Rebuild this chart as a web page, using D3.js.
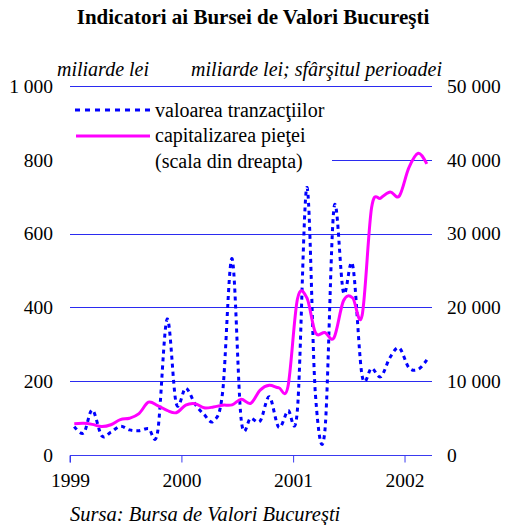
<!DOCTYPE html>
<html><head><meta charset="utf-8">
<script src="https://cdn.jsdelivr.net/npm/d3@7"></script>
<style>body{margin:0;background:#fff}svg{display:block}</style>
</head><body>
<svg id="c" width="506" height="525"></svg>
<script>
const months = ["1999-01","1999-02","1999-03","1999-04","1999-05","1999-06","1999-07","1999-08","1999-09","1999-10","1999-11","1999-12",
"2000-01","2000-02","2000-03","2000-04","2000-05","2000-06","2000-07","2000-08","2000-09","2000-10","2000-11","2000-12",
"2001-01","2001-02","2001-03","2001-04","2001-05","2001-06","2001-07","2001-08","2001-09","2001-10","2001-11","2001-12",
"2002-01","2002-02","2002-03"];
const tranzactii = [77,60,122,52,62,78,68,66,72,62,368,140,181,138,110,92,170,532,95,100,92,158,75,120,122,725,165,65,670,440,515,215,235,212,265,290,237,232,258];
const capitalizare = [4250,4300,4150,3850,4100,4800,4980,5600,7150,6700,6050,5730,6750,6950,6400,6500,6750,6800,7550,7000,8800,9450,9100,9250,21100,21300,16600,16600,15900,20900,21300,18900,33500,34800,35650,35100,38900,40880,39450];
const leftTicks = [0,200,400,600,800,1000];
const rightTicks = [0,10000,20000,30000,40000,50000];
const yearTicks = ["1999","2000","2001","2002"];

const svg = d3.select("#c");
const font = "'Liberation Serif','Times New Roman',serif";
const parse = d3.timeParse("%Y-%m-%d");
const x = d3.scaleTime().domain([parse("1999-01-01"), parse("2002-04-01")]).range([70, 432]);
const yL = d3.scaleLinear().domain([0,1000]).range([455, 86]);
const yR = d3.scaleLinear().domain([0,50000]).range([455, 86]);
const loc = d3.formatLocale({decimal:",", thousands:" ", grouping:[3], currency:["",""]});
const fmt = loc.format(",d");
const mid = m => parse(m + "-15");

// title
svg.append("text").attr("x", 253).attr("y", 24).attr("text-anchor","middle")
  .attr("font-family", font).attr("font-weight","bold").attr("font-size", 21)
  .text("Indicatori ai Bursei de Valori Bucureşti");

// gridlines
svg.append("g").selectAll("line").data(leftTicks.slice(1)).join("line")
  .attr("x1", 70).attr("x2", 432)
  .attr("y1", d => Math.round(yL(d)) + 0.5).attr("y2", d => Math.round(yL(d)) + 0.5)
  .attr("stroke", "#2b2bf0").attr("stroke-width", 1);

// bottom axis
const xAxis = d3.axisBottom(x).tickValues(yearTicks.map(y => parse(y + "-01-01"))).tickSize(7).tickFormat(d3.timeFormat("%Y"));
const gx = svg.append("g").attr("transform", "translate(0,455.5)").call(xAxis);
gx.select(".domain").attr("stroke", "#3a3af0").attr("d", "M70,7V0H432");
gx.selectAll(".tick line").attr("stroke", "#3a3af0");
gx.selectAll(".tick text").attr("font-family", font).attr("font-size", 19.5).attr("fill","#000").attr("dy", "0").attr("y", 31);

// left labels
svg.append("g").selectAll("text").data(leftTicks).join("text")
  .attr("x", 53).attr("y", d => yL(d)).attr("dy","0.35em").attr("text-anchor","end")
  .attr("font-family", font).attr("font-size", 19.5).text(d => fmt(d));
// right labels
svg.append("g").selectAll("text").data(rightTicks).join("text")
  .attr("x", 447).attr("y", d => yR(d)).attr("dy","0.35em").attr("text-anchor","start")
  .attr("font-family", font).attr("font-size", 19.5).text(d => fmt(d));

// unit labels
svg.append("text").attr("x", 57).attr("y", 76).attr("font-family", font).attr("font-style","italic").attr("font-size", 20).text("miliarde lei");
svg.append("text").attr("x", 442).attr("y", 76).attr("text-anchor","end").attr("font-family", font).attr("font-style","italic").attr("font-size", 20).text("miliarde lei; sfârşitul perioadei");

// lines
const curve = d3.curveCatmullRom.alpha(0);
const lineB = d3.line().x((d,i) => x(mid(months[i]))).y(d => yL(d)).curve(curve);
const lineM = d3.line().x((d,i) => x(mid(months[i]))).y(d => yR(d)).curve(curve);

// legend background
svg.append("rect").attr("x", 70).attr("y", 95).attr("width", 262).attr("height", 78).attr("fill", "#fff");

svg.append("path").datum(tranzactii).attr("d", lineB).attr("fill","none")
  .attr("stroke", "#0000ff").attr("stroke-width", 3).attr("stroke-dasharray","4,4");
svg.append("path").datum(capitalizare).attr("d", lineM).attr("fill","none")
  .attr("stroke", "#ff00ff").attr("stroke-width", 3);

// legend
const lg = svg.append("g");
lg.append("line").attr("x1",75).attr("x2",150).attr("y1",110).attr("y2",110).attr("stroke","#0000ff").attr("stroke-width",3).attr("stroke-dasharray","5,5");
lg.append("text").attr("x",155).attr("y",117).attr("font-family",font).attr("font-size",20).text("valoarea tranzacţiilor");
lg.append("line").attr("x1",76).attr("x2",150).attr("y1",136).attr("y2",136).attr("stroke","#ff00ff").attr("stroke-width",3);
lg.append("text").attr("x",155).attr("y",142).attr("font-family",font).attr("font-size",20).text("capitalizarea pieţei");
lg.append("text").attr("x",155).attr("y",168).attr("font-family",font).attr("font-size",20).text("(scala din dreapta)");

// source
svg.append("text").attr("x",70).attr("y",521).attr("font-family",font).attr("font-style","italic").attr("font-size",20.5).text("Sursa: Bursa de Valori Bucureşti");
</script>
</body></html>
